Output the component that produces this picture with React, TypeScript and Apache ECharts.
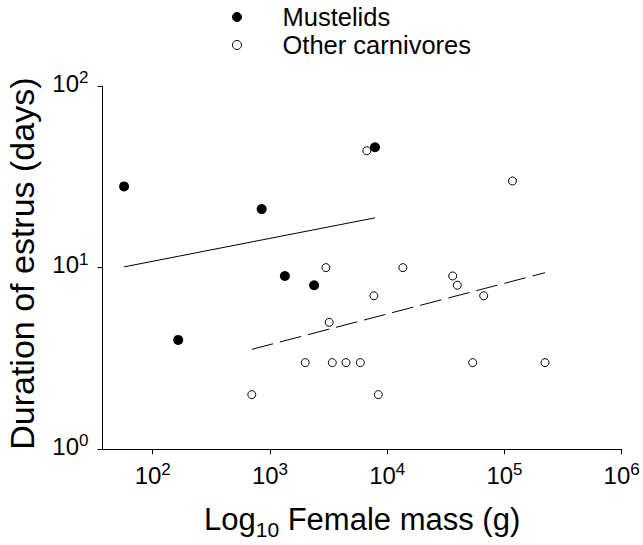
import React, { useEffect, useRef } from "react";
import * as echarts from "echarts";

// Mustelids (filled circles)
const mustelidMass = [57, 165, 850, 1340, 2380, 7870];
const mustelidDays = [28, 4, 21, 9, 8, 46];

// Other carnivores (open circles)
const otherMass = [700, 2000, 3000, 3200, 3400, 4450, 5900, 6700, 7700, 8400, 13600, 36200, 39600, 53600, 66500, 117000, 222000];
const otherDays = [2, 3, 10, 5, 3, 3, 3, 44, 7, 2, 10, 9, 8, 3, 7, 30, 3];

// Fitted lines (end points)
const mustelidFitMass = [57, 7870];
const mustelidFitDays = [10.1, 18.8];
const otherFitMass = [700, 222000];
const otherFitDays = [3.55, 9.38];

// Axis ticks
const xTickValues = [100, 1000, 10000, 100000, 1000000];
const xMin = 37.3;
const xMax = 1000000;
const yMin = 1;
const yMax = 100;

const FONT = "'Liberation Sans', Arial, Helvetica, sans-serif";

const pairs = (xs: number[], ys: number[]) => xs.map((x, i) => [x, ys[i]]);
const powLabel = (v: number) => "{b|10}{s|" + Math.round(Math.log10(v)) + "}";

const tickRich = {
  b: { fontSize: 24, fontFamily: FONT, color: "#000", verticalAlign: "top", padding: [2, 0, 0, 0] },
  s: { fontSize: 17, fontFamily: FONT, color: "#000", verticalAlign: "top" },
};

export default function App() {
  const ref = useRef<HTMLDivElement>(null);
  useEffect(() => {
    if (!ref.current) return;
    const chart = echarts.init(ref.current, undefined, { renderer: "svg" });
    chart.setOption({
      animation: false,
      backgroundColor: "#fff",
      textStyle: { fontFamily: FONT, color: "#000" },
      legend: {
        orient: "vertical",
        left: 232,
        top: 4,
        padding: 0,
        itemGap: 2,
        itemWidth: 81,
        itemHeight: 9,
        selectedMode: false,
        itemStyle: { borderWidth: 1 },
        textStyle: { fontSize: 25.5, fontFamily: FONT, color: "#000" },
        data: ["Mustelids", "Other carnivores"],
      },
      grid: {
        left: 102.5,
        right: 21.3,
        top: 86,
        bottom: 95.7,
        containLabel: false,
        outerBoundsMode: "none",
      },
      xAxis: {
        type: "log",
        logBase: 10,
        min: xMin,
        max: xMax,
        name: "{a|Log}{sub|10}{a| Female mass (g)}",
        nameLocation: "middle",
        nameGap: 55,
        nameTextStyle: {
          rich: {
            a: { fontSize: 31, fontFamily: FONT, color: "#000", verticalAlign: "top" },
            sub: { fontSize: 21, fontFamily: FONT, color: "#000", verticalAlign: "top", padding: [15, 0, 0, 0] },
          },
        },
        axisLine: { show: true, lineStyle: { color: "#000", width: 1 } },
        axisTick: { show: true, length: 5, lineStyle: { color: "#000" }, customValues: xTickValues },
        axisLabel: { margin: 12, formatter: powLabel, rich: tickRich, customValues: xTickValues },
        splitLine: { show: false },
        minorTick: { show: false },
      },
      yAxis: {
        type: "log",
        logBase: 10,
        min: yMin,
        max: yMax,
        name: "Duration of estrus (days)",
        nameLocation: "middle",
        nameRotate: 90,
        nameGap: 64,
        nameTextStyle: { fontSize: 34, fontFamily: FONT, color: "#000", padding: [0, 0, 0, 8] },
        axisLine: { show: true, lineStyle: { color: "#000", width: 1 } },
        axisTick: { show: true, length: 5, lineStyle: { color: "#000" } },
        axisLabel: { margin: 14, formatter: powLabel, rich: tickRich, padding: [0, 0, 8, 0] },
        splitLine: { show: false },
        minorTick: { show: false },
      },
      series: [
        {
          name: "Mustelid fit",
          type: "line",
          data: pairs(mustelidFitMass, mustelidFitDays),
          symbol: "none",
          lineStyle: { color: "#000", width: 1, type: "solid" },
          silent: true,
        },
        {
          name: "Other fit",
          type: "line",
          data: pairs(otherFitMass, otherFitDays),
          symbol: "none",
          lineStyle: { color: "#000", width: 1, type: [22, 7] },
          silent: true,
        },
        {
          name: "Other carnivores",
          type: "scatter",
          data: pairs(otherMass, otherDays),
          symbol: "circle",
          symbolSize: 8,
          itemStyle: { color: "#fff", borderColor: "#000", borderWidth: 1, opacity: 1 },
        },
        {
          name: "Mustelids",
          type: "scatter",
          data: pairs(mustelidMass, mustelidDays),
          symbol: "circle",
          symbolSize: 10,
          itemStyle: { color: "#000", borderColor: "#000", borderWidth: 0, opacity: 1 },
        },
      ],
    });
    return () => chart.dispose();
  }, []);
  return (
    <div
      ref={ref}
      style={{ position: "fixed", left: 0, top: 0, width: 643, height: 545, background: "#fff" }}
    />
  );
}
